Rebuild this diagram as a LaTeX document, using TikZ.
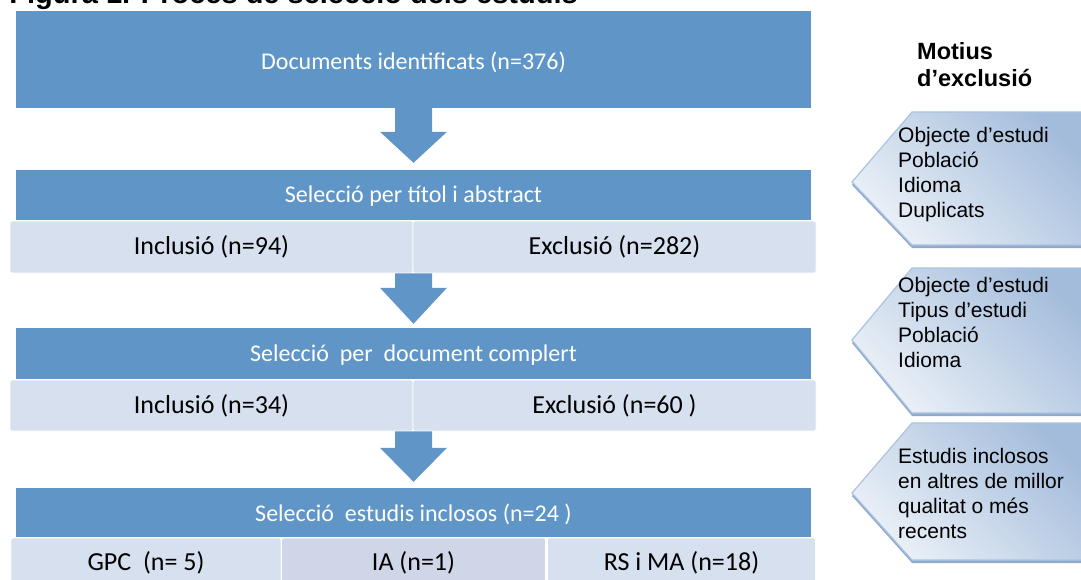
\documentclass[tikz,border=0pt]{standalone}
\usepackage{fontspec}
\setmainfont{Carlito}
\newfontfamily\arialf{Liberation Sans}
\usetikzlibrary{calc}
\definecolor{hdr}{HTML}{6096C7}
\definecolor{sub}{HTML}{D6E0EE}
\definecolor{subdark}{HTML}{CED6E8}
\definecolor{chevdark}{HTML}{A3BCDB}
\definecolor{chevlight}{HTML}{EAF0F7}
\definecolor{chevline}{HTML}{A9C3E2}
\definecolor{chevshadow}{HTML}{90AACC}
\newcommand\blockarr[3]{%
  \fill[hdr] let \p1=(#1), \p2=(#2) in
    (\x1-18.5pt,\y1) -- (\x1-18.5pt,\y2+#3) -- (\x1-33.5pt,\y2+#3) -- (\x2,\y2)
    -- (\x1+33.5pt,\y2+#3) -- (\x1+18.5pt,\y2+#3) -- (\x1+18.5pt,\y1) -- cycle;}
\newcommand\chevshape[3]{(1095,#1) -- (912,#1) -- (852,#2) -- (912,#3) -- (1095,#3) -- cycle}
\begin{document}
\begin{tikzpicture}[x=1pt,y=-1pt,
  hdrbox/.style={rectangle, fill=hdr, inner sep=0pt, text=white, minimum width=795pt,
    font=\fontsize{24}{28}\selectfont},
  hdrtext/.style={inner sep=0pt, text=white, font=\fontsize{24}{28}\selectfont},
  subbox/.style={rectangle, fill=sub, draw=white, line width=0.8pt, rounded corners=2pt,
    inner sep=0pt, font=\fontsize{26}{30}\selectfont},
  chevfill/.style={top color=chevdark, bottom color=chevlight, shading angle=-45,
    draw=chevline, line width=1.2pt},
  chevtext/.style={anchor=base west, inner sep=0pt, font=\arialf\fontsize{21}{25}\selectfont},
  headtext/.style={anchor=base west, inner sep=0pt, font=\arialf\bfseries\fontsize{23.5}{27}\selectfont}
]
\useasboundingbox (0,0) rectangle (1081,580);
\clip (0,0) rectangle (1081,580);

% title (cut off at top, as in the reference)
\node[anchor=base east, inner sep=0pt, font=\arialf\bfseries\fontsize{29}{33}\selectfont]
  (title) at (578,3.5) {Figura 1. Procés de selecció dels estudis};

% headers
\node[hdrbox, minimum height=97pt] (h1) at (413.5,59.5) {};
\node[hdrbox, minimum height=50pt] (h2) at (413.5,195) {};
\node[hdrbox, minimum height=51pt] (h3) at (413.5,353.5) {};
\node[hdrbox, minimum height=49pt] (h4) at (413.5,512.5) {};
\node[hdrtext] (h1t) at ($(h1.center)+(0,2.5)$) {Documents identificats (n=376)};
\node[hdrtext] (h2t) at ($(h2.center)+(0,1.5)$) {Selecció per títol i abstract};
\node[hdrtext] (h3t) at ($(h3.center)+(0,1.5)$) {Selecció\ \ per\ \ document complert};
\node[hdrtext] (h4t) at ($(h4.center)+(0,2)$) {Selecció\ \ estudis inclosos (n=24 )};

% sub boxes
\node[subbox, minimum width=403pt, minimum height=52pt] (s2a) at (211.5,247) {Inclusió (n=94)};
\node[subbox, minimum width=403pt, minimum height=52pt] (s2b) at (614.5,247) {Exclusió (n=282)};
\node[subbox, minimum width=403pt, minimum height=51pt] (s3a) at (211.5,405.5) {Inclusió (n=34)};
\node[subbox, minimum width=403pt, minimum height=51pt] (s3b) at (614.5,405.5) {Exclusió (n=60 )};
\node[subbox, minimum width=270pt, minimum height=50pt] (s4a) at (146,563) {GPC\ \ (n= 5)};
\node[subbox, fill=subdark, minimum width=264pt, minimum height=50pt] (s4b) at (413.5,563) {IA (n=1)};
\node[subbox, minimum width=268pt, minimum height=50pt] (s4c) at (681.5,563) {RS i MA (n=18)};

% block arrows
\coordinate (t1) at ($(h2.north)+(0,-7)$);
\coordinate (t2) at ($(h3.north)+(0,-4)$);
\coordinate (t3) at ($(h4.north)+(0,-6)$);
\blockarr{h1.south}{t1}{31pt}
\blockarr{h2.south |- s2a.south}{t2}{36pt}
\blockarr{h3.south |- s3a.south}{t3}{34pt}

% exclusion reasons
\node[headtext] (motius) at (917,60) {\parbox[t]{160pt}{\raggedright Motius\\d’exclusió}};

\fill[chevshadow] \chevshape{115}{185}{248};
\path[chevfill] \chevshape{112}{182}{245};
\fill[chevshadow] \chevshape{271}{343}{416};
\path[chevfill] \chevshape{268}{340}{413};
\fill[chevshadow] \chevshape{426}{496}{563};
\path[chevfill] \chevshape{423}{493}{560};

\node[chevtext] (c1) at (898,143) {\parbox[t]{180pt}{\raggedright Objecte d’estudi\\Població\\Idioma\\Duplicats}};
\node[chevtext] (c2) at (898,292) {\parbox[t]{180pt}{\raggedright Objecte d’estudi\\Tipus d’estudi\\Població\\Idioma}};
\node[chevtext] (c3) at (898,463) {\parbox[t]{180pt}{\raggedright Estudis inclosos\\en altres de millor\\qualitat o més\\recents}};
\end{tikzpicture}
\end{document}
